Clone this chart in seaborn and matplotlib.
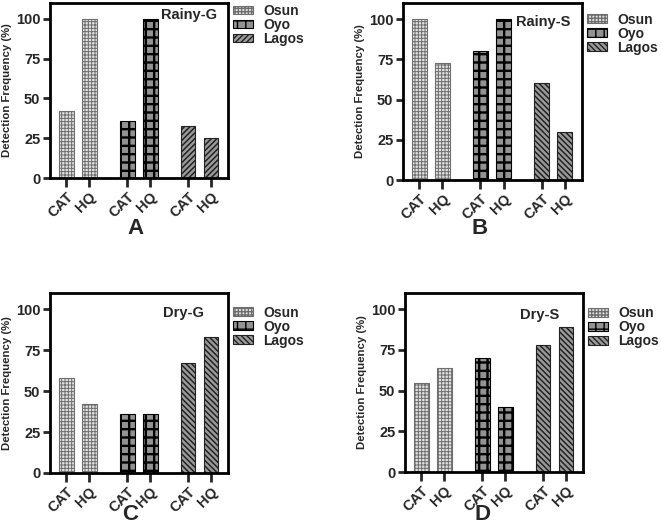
import numpy as np
import pandas as pd
import matplotlib
matplotlib.use("Agg")
import matplotlib.pyplot as plt
from matplotlib.patches import Patch
import seaborn as sns

# datos
regions = ["Osun", "Oyo", "Lagos"]
compounds = ["CAT", "HQ"]
panel_titles = ["Rainy-G", "Rainy-S", "Dry-G", "Dry-S"]
panel_letters = ["A", "B", "C", "D"]
rainy_g = [42, 100, 36, 100, 33, 25]
rainy_s = [100, 73, 80, 100, 60, 30]
dry_g = [58, 42, 36, 36, 67, 83]
dry_s = [55, 64, 70, 40, 78, 89]
y_ticks = [0, 25, 50, 75, 100]

sns.set_style("ticks")
plt.rcParams["font.family"] = ["Liberation Sans", "DejaVu Sans"]
plt.rcParams["font.weight"] = "bold"
plt.rcParams["axes.labelweight"] = "bold"

# estilos por region (relleno, trama, grosor de trama, borde)
styles = {
    "Osun": dict(face="#e2e2e2", hatch="+++++", hlw=0.7, edge="#6e6e6e"),
    "Oyo": dict(face="#939393", hatch="++", hlw=1.7, edge="#000000"),
    "Lagos": dict(face="#9a9a9a", hatch="\\\\\\\\\\\\", hlw=1.1, edge="#222222"),
}
group_gap = 2.65

fig = plt.figure(figsize=(6.61, 5.27), dpi=100)
W, H = 661, 527
# cajas de los ejes en pixeles: izquierda, arriba, derecha, abajo
boxes = [(50, 3, 228, 178), (403, 3, 582, 180), (50, 293, 228, 473), (405, 293, 583, 472)]
title_pos = [(0.94, 0.93), (0.933, 0.894), (0.865, 0.889), (0.865, 0.877)]
legend_y = [0.995, 0.945, 0.93, 0.925]
letter_pos = [(135, 228), (480, 228), (130, 515), (483, 514)]
panels = [rainy_g, rainy_s, dry_g, dry_s]

for i, vals in enumerate(panels):
    l, t, r, b = boxes[i]
    ax = fig.add_axes([l / W, 1 - b / H, (r - l) / W, (b - t) / H])

    df = pd.DataFrame({
        "region": np.repeat(regions, len(compounds)),
        "compound": compounds * len(regions),
        "value": vals,
    })
    df["pos"] = [g * group_gap + c for g in range(len(regions)) for c in range(len(compounds))]

    sns.barplot(data=df, x="pos", y="value", hue="region", hue_order=regions,
                dodge=False, native_scale=True, width=0.65, legend=False,
                palette=[styles[r_]["face"] for r_ in regions], saturation=1, ax=ax)

    handles = []
    for k, reg in enumerate(regions):
        st = dict(styles[reg])
        if i == 0 and reg == "Lagos":
            st["hatch"] = "//////"
        bars = ax.patches[k * len(compounds):(k + 1) * len(compounds)]
        for bar in bars:
            bar.set_facecolor(st["face"])
            bar.set_edgecolor(st["edge"])
            bar.set_hatch(st["hatch"])
            bar.set_linewidth(0.8)
            if hasattr(bar, "set_hatch_linewidth"):
                bar.set_hatch_linewidth(st["hlw"])
        h = Patch(facecolor=st["face"], edgecolor=st["edge"], hatch=st["hatch"], linewidth=0.8)
        if hasattr(h, "set_hatch_linewidth"):
            h.set_hatch_linewidth(st["hlw"])
        handles.append(h)

    ax.set_xlim(-0.7, 2 * group_gap + 1.74)
    ax.set_ylim(0, 110)
    ax.set_yticks(y_ticks)
    ax.set_yticklabels([str(v) for v in y_ticks], fontsize=10.5, fontweight="bold")
    ax.set_xticks(df["pos"])
    ax.set_xticklabels(df["compound"], fontsize=10.5, fontweight="bold",
                       rotation=45, ha="right", rotation_mode="anchor")
    ax.set_xlabel("")
    ax.set_ylabel("Detection Frequency (%)", fontsize=8.2, fontweight="bold", labelpad=3)

    for sp in ax.spines.values():
        sp.set_visible(True)
        sp.set_linewidth(2.0)
        sp.set_color("black")
    ax.tick_params(axis="x", length=6.5, width=2.0, pad=2)
    ax.tick_params(axis="y", length=5, width=2.0, pad=2)

    tx, ty = title_pos[i]
    ax.text(tx, ty, panel_titles[i], transform=ax.transAxes, ha="right", va="center",
            fontsize=10.5, fontweight="bold")

    leg = ax.legend(handles, regions, loc="upper left", bbox_to_anchor=(1.028, legend_y[i]),
                    frameon=False, borderaxespad=0, borderpad=0, fontsize=10,
                    labelspacing=0.0, handlelength=1.45, handleheight=0.6,
                    handletextpad=0.75)
    for txt in leg.get_texts():
        txt.set_fontweight("bold")

    lx, ly = letter_pos[i]
    fig.text(lx / W, 1 - ly / H, panel_letters[i], ha="center", va="center",
             fontsize=16, fontweight="bold")

plt.rcParams["hatch.linewidth"] = 1.2
fig.savefig("out.png", dpi=100)
